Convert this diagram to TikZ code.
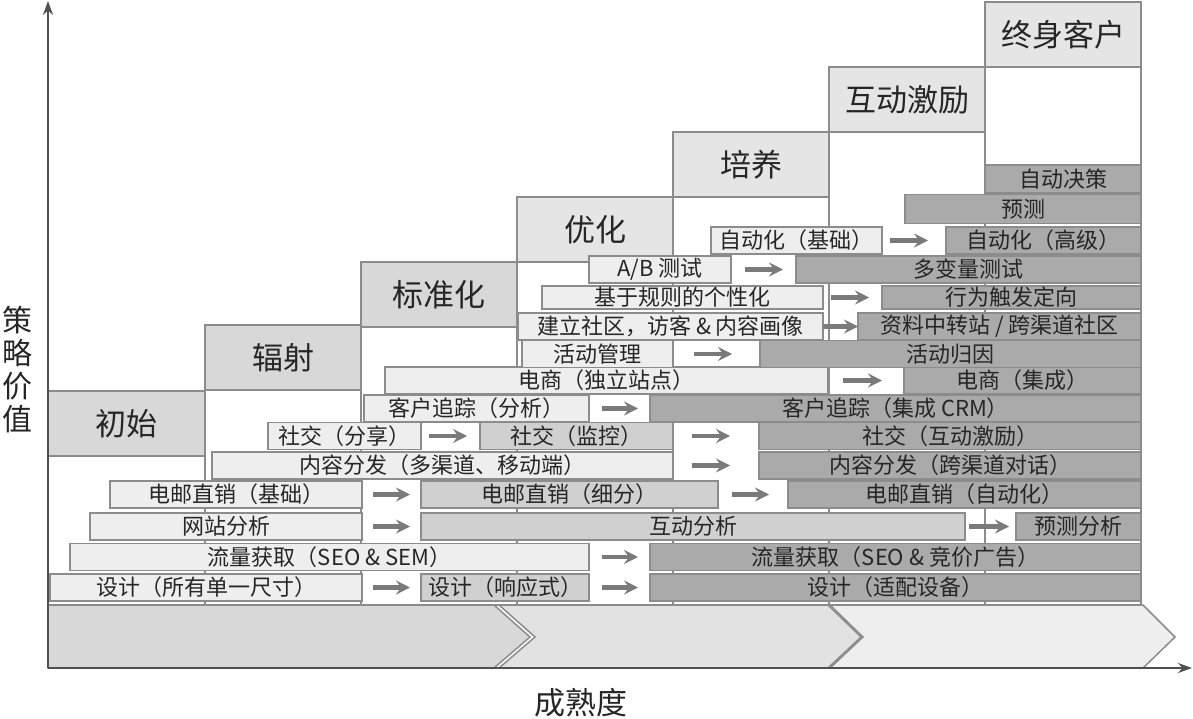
\documentclass[tikz,border=0pt]{standalone}
\usepackage{fontspec}
\setmainfont{Noto Sans CJK SC}
\usetikzlibrary{arrows.meta}
\definecolor{barlight}{RGB}{238,238,238}
\definecolor{barmid}{RGB}{208,208,208}
\definecolor{bardark}{RGB}{170,170,170}
\definecolor{stagegray}{RGB}{216,216,216}
\definecolor{stagelight}{RGB}{229,229,229}
\definecolor{framegray}{RGB}{140,140,140}
\definecolor{arrowgray}{RGB}{122,122,122}
\definecolor{axisgray}{RGB}{80,80,80}
\definecolor{chevdark}{RGB}{216,216,216}
\definecolor{chevmid}{RGB}{226,226,226}
\definecolor{chevlight}{RGB}{238,238,238}
\tikzset{
  rowbar/.style={draw=framegray, line width=1.2pt, minimum height=27pt, inner sep=0pt, outer sep=0pt, anchor=west, font=\fontsize{22}{22}\selectfont, text=black!85},
  lightbar/.style={rowbar, fill=barlight},
  midbar/.style={rowbar, fill=barmid},
  darkbar/.style={rowbar, fill=bardark},
  stagebox/.style={draw=framegray, line width=1.5pt, minimum width=156pt, minimum height=65pt, inner sep=0pt, outer sep=0pt, anchor=north west, font=\fontsize{31}{31}\selectfont, text=black!85},
  colframe/.style={draw=framegray, line width=1.5pt},
  chevron/.style={draw=framegray, line width=1.5pt},
  flow/.style={draw=arrowgray, line width=4.5pt, -{Stealth[length=14pt,width=14pt,inset=5pt]}},
  axisline/.style={draw=axisgray, line width=2.5pt, -{Stealth[length=14pt,width=10pt]}}
}

\begin{document}
\begin{tikzpicture}[x=1pt, y=-1pt]
  \useasboundingbox (0,0) rectangle (1193,719);

  % stage columns
  \draw[colframe] (48,391) rectangle (205,605);
  \draw[colframe] (205,325) rectangle (361,605);
  \draw[colframe] (361,262) rectangle (517,605);
  \draw[colframe] (517,197) rectangle (673,605);
  \draw[colframe] (673,132) rectangle (829,605);
  \draw[colframe] (829,67) rectangle (985,605);
  \draw[colframe] (985,2) rectangle (1141,605);

  % stage headers
  \node[stagebox, fill=stagegray, minimum width=157pt] (st1) at (48,391) {初始};
  \node[stagebox, fill=stagegray] (st2) at (205,325) {辐射};
  \node[stagebox, fill=stagegray] (st3) at (361,262) {标准化};
  \node[stagebox, fill=stagelight] (st4) at (517,197) {优化};
  \node[stagebox, fill=stagelight] (st5) at (673,132) {培养};
  \node[stagebox, fill=stagelight] (st6) at (829,67) {互动激励};
  \node[stagebox, fill=stagelight] (st7) at (985,2) {终身客户};

  % Design
  \node[lightbar, minimum width=312pt] (des1) at (50,587.5) {设计（所有单一尺寸）};
  \node[midbar, minimum width=168pt] (des2) at (421,587.5) {设计（响应式）};
  \node[darkbar, minimum width=491pt] (des3) at (650,587.5) {设计（适配设备）};
  \draw[flow, shorten <=11pt, shorten >=11pt] (des1) -- (des2);
  \draw[flow, shorten <=13pt, shorten >=12pt] (des2) -- (des3);

  % Traffic
  \node[lightbar, minimum width=519pt] (traf1) at (70,557) {流量获取（SEO \& SEM）};
  \node[darkbar, minimum width=491pt] (traf2) at (650,557) {流量获取（SEO \& 竞价广告）};
  \draw[flow, shorten <=13pt, shorten >=12pt] (traf1) -- (traf2);

  % Analytics
  \node[lightbar, minimum width=272pt] (ana1) at (90,526.5) {网站分析};
  \node[midbar, minimum width=544pt] (ana2) at (421,526.5) {互动分析};
  \node[darkbar, minimum width=125pt] (ana3) at (1016,526.5) {预测分析};
  \draw[flow, shorten <=11pt, shorten >=11pt] (ana1) -- (ana2);
  \draw[flow, shorten <=4pt, shorten >=7pt] (ana2) -- (ana3);

  % Email
  \node[lightbar, minimum width=252pt] (mail1) at (110,494.5) {电邮直销（基础）};
  \node[midbar, minimum width=297pt] (mail2) at (421,494.5) {电邮直销（细分）};
  \node[darkbar, minimum width=353pt] (mail3) at (788,494.5) {电邮直销（自动化）};
  \draw[flow, shorten <=11pt, shorten >=11pt] (mail1) -- (mail2);
  \draw[flow, shorten <=14pt, shorten >=19pt] (mail2) -- (mail3);

  % Content
  \node[lightbar, minimum width=461pt] (cont1) at (212,465.5) {内容分发（多渠道、移动端）};
  \node[darkbar, minimum width=382pt] (cont2) at (759,465.5) {内容分发（跨渠道对话）};
  \draw[flow, shorten <=19pt, shorten >=29pt] (cont1) -- (cont2);

  % Social
  \node[lightbar, minimum width=153pt] (soc1) at (268,436) {社交（分享）};
  \node[midbar, minimum width=193pt] (soc2) at (480,436) {社交（监控）};
  \node[darkbar, minimum width=382pt] (soc3) at (759,436) {社交（互动激励）};
  \draw[flow, shorten <=8pt, shorten >=13pt] (soc1) -- (soc2);
  \draw[flow, shorten <=19pt, shorten >=29pt] (soc2) -- (soc3);

  % Tracking
  \node[lightbar, minimum width=225pt] (trk1) at (364,408.5) {客户追踪（分析）};
  \node[darkbar, minimum width=491pt] (trk2) at (650,408.5) {客户追踪（集成 CRM）};
  \draw[flow, shorten <=13pt, shorten >=12pt] (trk1) -- (trk2);

  % Commerce
  \node[lightbar, minimum width=443pt] (shop1) at (385,380.5) {电商（独立站点）};
  \node[darkbar, minimum width=237pt] (shop2) at (904,380.5) {电商（集成）};
  \draw[flow, shorten <=15pt, shorten >=22pt] (shop1) -- (shop2);

  % Campaigns
  \node[lightbar, minimum width=151pt] (camp1) at (522,354) {活动管理};
  \node[darkbar, minimum width=381pt] (camp2) at (760,354) {活动归因};
  \draw[flow, shorten <=21pt, shorten >=28pt] (camp1) -- (camp2);

  % Community
  \node[lightbar, minimum width=305pt] (comm1) at (518,326.5) {建立社区，访客 \& 内容画像};
  \node[darkbar, minimum width=283pt] (comm2) at (858,326.5) {资料中转站 / 跨渠道社区};
  \draw[flow] (comm1) -- (comm2);

  % Personalisation
  \node[lightbar, minimum width=281pt, minimum height=23pt] (pers1) at (542,297.5) {基于规则的个性化};
  \node[darkbar, minimum width=259pt, minimum height=23pt] (pers2) at (882,297.5) {行为触发定向};
  \draw[flow, shorten <=8pt, shorten >=13pt] (pers1) -- (pers2);

  % Testing
  \node[lightbar, minimum width=142pt] (test1) at (589,269.5) {A/B 测试};
  \node[darkbar, minimum width=345pt] (test2) at (796,269.5) {多变量测试};
  \draw[flow, shorten <=14pt, shorten >=13pt] (test1) -- (test2);

  % Automation
  \node[lightbar, minimum width=171pt] (auto1) at (711,240.5) {自动化（基础）};
  \node[darkbar, minimum width=195pt] (auto2) at (946,240.5) {自动化（高级）};
  \draw[flow, shorten <=8pt, shorten >=18pt] (auto1) -- (auto2);

  % Prediction, decisions
  \node[darkbar, minimum width=236pt, minimum height=29pt] (pred) at (905,209) {预测};
  \node[darkbar, minimum width=156pt, minimum height=28pt] (deci) at (985,179) {自动决策};

  % maturity band
  \draw[chevron, fill=chevdark] (48,605) -- (494,605) -- (530,637) -- (494,668) -- (48,668) -- cycle;
  \draw[chevron, fill=chevmid] (499,605) -- (828,605) -- (861,637) -- (828,668) -- (499,668) -- (535,637) -- cycle;
  \draw[chevron, fill=chevlight] (830,605) -- (1143,605) -- (1175,637) -- (1143,668) -- (830,668) -- (863,637) -- cycle;

  % axes
  \coordinate (origin) at (48,668);
  \coordinate (ytop) at (48,1);
  \coordinate (xend) at (1192,668);
  \draw[axisline] (origin) -- (ytop);
  \draw[axisline] (origin) -- (xend);
  \node[font=\fontsize{30}{33}\selectfont, align=center, inner sep=0pt, text=black!85] (valuelabel) at (17,370) {策\\略\\价\\值};
  \node[font=\fontsize{31}{31}\selectfont, inner sep=0pt, text=black!85] (maturitylabel) at (581,703) {成熟度};
\end{tikzpicture}
\end{document}
